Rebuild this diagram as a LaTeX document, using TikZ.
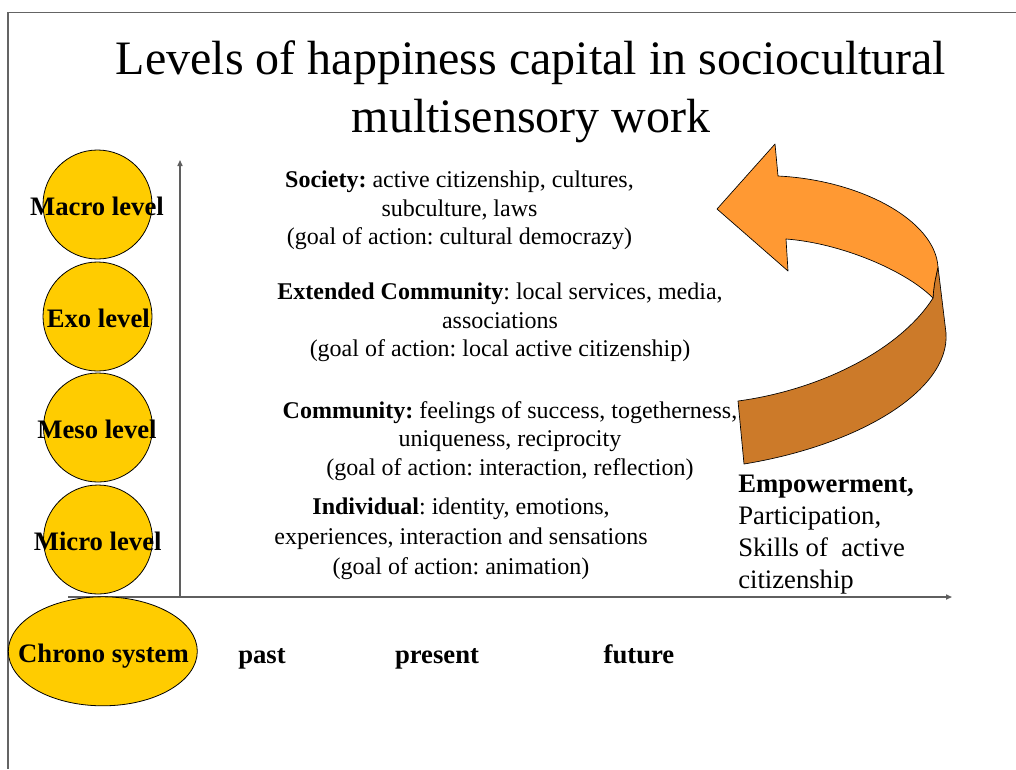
\documentclass[tikz,border=0pt]{standalone}
\usepackage{fontspec}
\setmainfont{Liberation Serif}
\frenchspacing
\usetikzlibrary{shapes.geometric,arrows.meta}
\definecolor{lvlfill}{RGB}{255,204,0}
\definecolor{arrlight}{RGB}{255,153,51}
\definecolor{arrdark}{RGB}{204,122,41}
\definecolor{framegray}{RGB}{100,100,100}
\definecolor{axisgray}{RGB}{95,95,95}
\tikzset{
  lvl/.style={circle,draw=black,line width=0.6pt,fill=lvlfill,minimum size=81.75pt,inner sep=0pt},
  lvllabel/.style={font=\fontsize{20}{24}\selectfont\bfseries,anchor=base,inner sep=0pt},
  body/.style={font=\fontsize{18}{21.4}\selectfont,align=center,anchor=north,inner sep=0pt},
  timelabel/.style={font=\fontsize{20}{24}\selectfont\bfseries,anchor=base,inner sep=0pt},
  axisline/.style={draw=axisgray,line width=1pt,-{Triangle[length=4.5pt,width=3.8pt]}},
  frameline/.style={draw=framegray,line width=1.1pt},
  arrowpart/.style={draw=black,line width=0.5pt,line join=round}
}
\begin{document}
\begin{tikzpicture}[x=0.75pt,y=-0.75pt]
\useasboundingbox (0,0) rectangle (1016,769);
% frame
\coordinate (ftl) at (8,12.5);
\coordinate (ftr) at (1016,12.5);
\coordinate (fbl) at (8,769);
\draw[frameline] (ftr) -- (ftl) -- (fbl);
% title
\node[font=\fontsize{36}{43.5}\selectfont,align=center,anchor=north,inner sep=0pt] (title) at (531,40.5)
  {Levels of happiness capital in sociocultural\\multisensory work};
% axes
\coordinate (origin) at (180,597);
\coordinate (ytop) at (180,160);
\coordinate (xleft) at (68,597);
\coordinate (xright) at (952,597);
\draw[axisline] (origin) -- (ytop);
\draw[axisline] (xleft) -- (xright);
% level circles
\node[lvl] (macro) at (97.5,204.5) {};
\node[lvl] (exo) at (97.5,316.5) {};
\node[lvl] (meso) at (98,427.5) {};
\node[lvl] (micro) at (98,539.5) {};
\node[ellipse,draw=black,line width=0.6pt,fill=lvlfill,minimum width=141.75pt,minimum height=81.75pt,inner sep=0pt] (chrono) at (102.8,651.3) {};
\node[lvllabel] (macroL) at (97,215) {Macro level};
\node[lvllabel] (exoL) at (98.3,327) {Exo level};
\node[lvllabel] (mesoL) at (97,438) {Meso level};
\node[lvllabel] (microL) at (97.7,550.5) {Micro level};
\node[lvllabel] (chronoL) at (103.5,662) {Chrono system};
% time labels
\node[timelabel] (past) at (262,663) {past};
\node[timelabel] (present) at (437,663) {present};
\node[timelabel] (future) at (639,663) {future};
% body texts
\node[body] (society) at (459.5,170.6)
  {\textbf{Society:} active citizenship, cultures,\\subculture, laws\\(goal of action: cultural democrazy)};
\node[body] (extended) at (500,282.6)
  {\textbf{Extended Community}: local services, media,\\associations\\(goal of action: local active citizenship)};
\node[body] (community) at (510,401)
  {\textbf{Community:} feelings of success, togetherness,\\uniqueness, reciprocity\\(goal of action: interaction, reflection)};
\node[body,font=\fontsize{18}{22.5}\selectfont] (individual) at (461,498)
  {\textbf{Individual}: identity, emotions,\\experiences, interaction and sensations\\(goal of action: animation)};
\node[font=\fontsize{20}{24}\selectfont,align=left,anchor=north west,inner sep=0pt] (empower) at (738,474.4)
  {\textbf{Empowerment,}\\Participation,\\Skills of\ \ active\\citizenship};
% curved arrow
\coordinate (foldtop) at (938,267);
\coordinate (foldbot) at (933,298);
\coordinate (tip) at (717,209);
\coordinate (headup) at (775,144);
\coordinate (shaftup) at (778,176);
\coordinate (shaftlow) at (786,239);
\coordinate (headlow) at (788,271);
\coordinate (darkout) at (946,333);
\coordinate (endout) at (744,464);
\coordinate (endin) at (738,401);
\filldraw[arrowpart,fill=arrdark] (foldtop) -- (darkout)
  .. controls (950,390) and (860,445) .. (endout) -- (endin)
  .. controls (820,390) and (900,350) .. (foldbot)
  .. controls (934,285) .. (foldtop) -- cycle;
\filldraw[arrowpart,fill=arrlight] (tip) -- (headup) -- (shaftup)
  .. controls (860,180) and (935,220) .. (foldtop)
  .. controls (934,285) .. (foldbot)
  .. controls (905,270) and (840,243) .. (shaftlow) -- (headlow) -- cycle;
\end{tikzpicture}
\end{document}
